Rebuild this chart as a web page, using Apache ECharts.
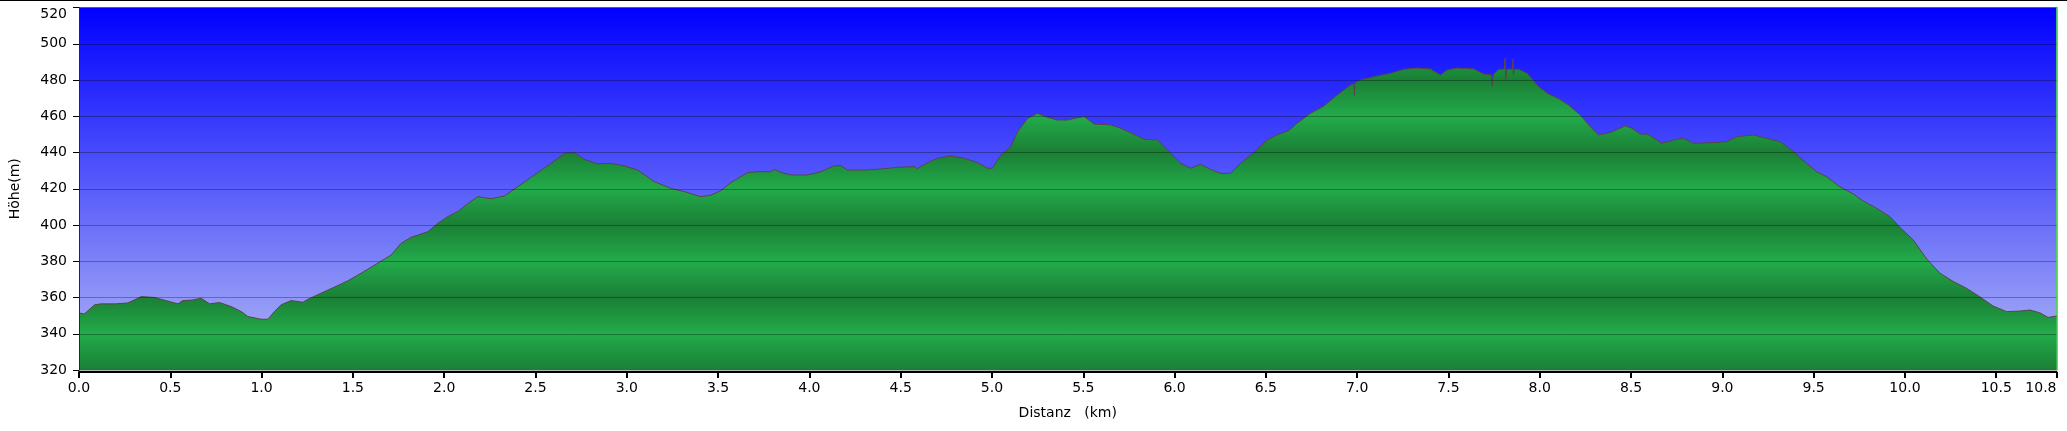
<!DOCTYPE html>
<html>
<head>
<meta charset="utf-8">
<script src="https://cdn.jsdelivr.net/npm/echarts@6/dist/echarts.min.js"></script>
<style>
  html, body { margin: 0; padding: 0; background: #fff; }
  #chart { width: 2067px; height: 431px; }
  #topline { position: absolute; left: 0; top: 0; width: 2067px; height: 1px; background: #000; z-index: 10; }
</style>
</head>
<body>
<div id="topline"></div>
<div id="chart"></div>
<script>
// Distance along track (km)
const distKm = [
  0.00, 0.03, 0.086, 0.122, 0.20, 0.268, 0.341, 0.414, 0.487, 0.542, 0.569, 0.62, 0.669, 0.715, 0.770,
  0.833, 0.888, 0.925, 0.998, 1.034, 1.071, 1.107, 1.162, 1.226, 1.253, 1.326, 1.398, 1.472, 1.545,
  1.654, 1.709, 1.764, 1.819, 1.873, 1.910, 1.965, 2.019, 2.074, 2.128, 2.183, 2.256, 2.330, 2.403,
  2.494, 2.585, 2.658, 2.713, 2.768, 2.841, 2.914, 2.987, 3.060, 3.151, 3.242, 3.315, 3.406, 3.461,
  3.516, 3.570, 3.662, 3.717, 3.790, 3.808, 3.843, 3.899, 3.989, 4.063, 4.136, 4.172, 4.209, 4.300,
  4.391, 4.483, 4.574, 4.592, 4.647, 4.702, 4.775, 4.848, 4.921, 4.976, 5.002, 5.049, 5.104, 5.140,
  5.195, 5.250, 5.304, 5.359, 5.414, 5.450, 5.505, 5.560, 5.651, 5.697, 5.760, 5.833, 5.906, 5.979,
  6.032, 6.087, 6.142, 6.197, 6.251, 6.306, 6.361, 6.434, 6.507, 6.561, 6.625, 6.671, 6.744, 6.817,
  6.890, 6.963, 6.983, 6.985, 6.988, 7.018, 7.109, 7.182, 7.255, 7.328, 7.401, 7.456, 7.492, 7.547,
  7.639, 7.693, 7.735, 7.740, 7.745, 7.775, 7.805, 7.810, 7.814, 7.818, 7.850, 7.853, 7.856, 7.860,
  7.885, 7.931, 7.994, 8.049, 8.104, 8.158, 8.222, 8.276, 8.322, 8.386, 8.468, 8.505, 8.550, 8.595,
  8.668, 8.750, 8.787, 8.842, 8.933, 9.024, 9.078, 9.170, 9.243, 9.316, 9.389, 9.462, 9.516, 9.571,
  9.644, 9.717, 9.772, 9.845, 9.918, 9.980, 10.046, 10.119, 10.192, 10.265, 10.337, 10.410, 10.483,
  10.556, 10.629, 10.684, 10.738, 10.784, 10.830
];
// Elevation (m)
const elevM = [
  351.4, 351.0, 356.0, 356.5, 356.5, 357.0, 360.5, 360.0, 358.0, 356.5, 358.3, 358.6, 359.6, 356.5, 357.2,
  355.0, 352.3, 349.5, 348.0, 348.0, 352.3, 356.0, 358.3, 357.4, 359.0, 362.4, 365.7, 369.2, 373.4,
  380.0, 383.4, 389.9, 393.2, 395.0, 396.3, 400.9, 404.6, 407.4, 411.6, 415.6, 414.5, 416.0, 421.1,
  427.6, 434.0, 439.5, 439.9, 436.2, 433.7, 434.0, 432.6, 430.3, 423.9, 420.2, 418.4, 415.6, 416.5,
  418.9, 423.4, 428.9, 429.4, 429.4, 430.7, 429.0, 427.6, 427.6, 429.4, 432.7, 432.7, 430.3, 430.3,
  430.9, 431.8, 432.2, 431.1, 434.4, 436.8, 438.1, 436.8, 434.4, 431.3, 431.3, 438.6, 443.2, 451.5,
  458.8, 461.6, 459.4, 457.9, 457.9, 458.8, 459.8, 455.7, 455.2, 453.7, 450.9, 447.3, 446.9, 439.5,
  434.0, 431.3, 433.5, 430.7, 428.5, 428.5, 434.0, 439.9, 446.9, 449.7, 452.1, 456.1, 461.6, 465.6,
  471.7, 477.2, 478.0, 471.5, 478.5, 480.0, 482.2, 483.7, 485.9, 486.6, 486.1, 482.8, 485.5, 486.6,
  486.1, 483.3, 482.8, 476.5, 483.0, 485.9, 486.0, 492.0, 480.5, 486.0, 486.0, 491.5, 483.0, 486.0,
  485.9, 483.7, 476.3, 472.3, 469.7, 466.2, 460.7, 454.3, 449.7, 451.0, 454.7, 453.4, 450.2, 450.0,
  445.1, 447.3, 447.8, 445.1, 445.4, 446.0, 448.7, 449.7, 447.8, 446.0, 440.5, 434.0, 429.4, 426.7,
  421.1, 417.1, 413.2, 409.2, 404.6, 398.0, 391.7, 381.2, 373.4, 368.8, 365.1, 360.4, 355.3,
  352.2, 352.5, 353.1, 351.6, 349.0, 349.8
];
const yMin = 320, yMax = 520, yStep = 20;
const xMin = 0, xMax = 10.83, xStep = 0.5;
const xAxisTitle = 'Distanz   (km)';
const yAxisTitle = 'Höhe(m)';

const FONT = 'DejaVu Sans';
const chart = echarts.init(document.getElementById('chart'), null, { renderer: 'canvas' });
const seriesData = distKm.map((d, i) => [d, elevM[i]]);

const option = {
  animation: false,
  backgroundColor: '#ffffff',
  textStyle: { fontFamily: FONT },
  grid: {
    left: 77.5, right: 10.5, top: 7.5, bottom: 61,
    show: true, borderWidth: 0,
    backgroundColor: new echarts.graphic.LinearGradient(0, 0, 0, 1, [
      { offset: 0, color: '#0000ff' },
      { offset: 1, color: '#b2baf4' }
    ])
  },
  xAxis: {
    type: 'value', min: xMin, max: xMax, interval: xStep,
    offset: 2,
    name: xAxisTitle, nameLocation: 'middle', nameGap: 34,
    nameTextStyle: { fontFamily: FONT, fontSize: 14, color: '#000' },
    axisLine: { show: true, lineStyle: { color: '#000', width: 2 } },
    axisTick: { show: true, length: 6, lineStyle: { color: '#000', width: 2 } },
    axisLabel: {
      fontFamily: FONT, fontSize: 14, color: '#000', margin: 9,
      showMinLabel: true, showMaxLabel: true, alignMaxLabel: 'right',
      formatter: v => v.toFixed(1)
    },
    splitLine: { show: false }
  },
  yAxis: [{
    type: 'value', min: yMin, max: yMax, interval: yStep,
    z: 5,
    name: yAxisTitle, nameLocation: 'middle', nameRotate: 90, nameGap: 57,
    nameTextStyle: { fontFamily: FONT, fontSize: 14, color: '#000' },
    axisLine: { show: true, lineStyle: { color: '#2a2a1a', width: 1 } },
    axisTick: { show: true, length: 6, lineStyle: { color: '#000', width: 1 } },
    axisLabel: {
      fontFamily: FONT, fontSize: 14, color: '#000', margin: 12,
      verticalAlignMaxLabel: 'top'
    },
    splitLine: { show: true, lineStyle: { color: 'rgba(0,0,0,0.3)', width: 1 } }
  }, {
    type: 'value', min: yMin, max: yMax, interval: yStep, position: 'right',
    axisLine: { show: true, lineStyle: { color: '#2fd02f', width: 1.5 } },
    axisTick: { show: false }, axisLabel: { show: false }, splitLine: { show: false }
  }],
  series: [{
    type: 'line',
    data: seriesData,
    yAxisIndex: 0,
    showSymbol: false,
    symbol: 'none',
    smooth: false,
    lineStyle: { color: '#5a4545', width: 1 },
    areaStyle: { color: '#23ab4b', opacity: 1 },
    z: 2
  }]
};
chart.setOption(option);

// Banded green fill tied to the y-axis scale
const yTop = chart.convertToPixel({ yAxisIndex: 0 }, yMax);
const yBot = chart.convertToPixel({ yAxisIndex: 0 }, yMin);
const bright = '#23ab4b', dark = '#1a7f35';
const nBands = (yMax - yMin) / yStep;
const stops = [];
for (let i = 0; i <= nBands; i++) {
  stops.push({ offset: i / nBands, color: (i % 2 === 0) ? dark : bright });
}
chart.setOption({
  series: [{
    areaStyle: { color: new echarts.graphic.LinearGradient(0, yTop, 0, yBot, stops, true), opacity: 1 }
  }]
});
</script>
</body>
</html>
